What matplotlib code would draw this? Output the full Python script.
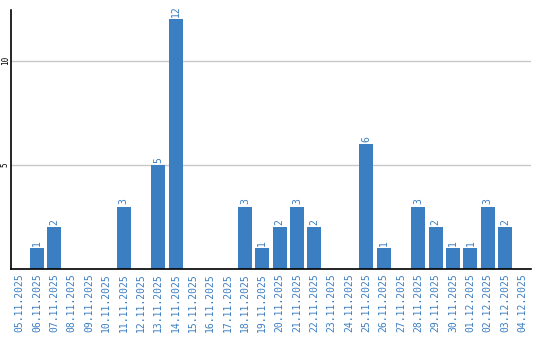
import matplotlib
matplotlib.use("Agg")
import matplotlib.pyplot as plt

dates = ["05.11.2025", "06.11.2025", "07.11.2025", "08.11.2025", "09.11.2025",
         "10.11.2025", "11.11.2025", "12.11.2025", "13.11.2025", "14.11.2025",
         "15.11.2025", "16.11.2025", "17.11.2025", "18.11.2025", "19.11.2025",
         "20.11.2025", "21.11.2025", "22.11.2025", "23.11.2025", "24.11.2025",
         "25.11.2025", "26.11.2025", "27.11.2025", "28.11.2025", "29.11.2025",
         "30.11.2025", "01.12.2025", "02.12.2025", "03.12.2025", "04.12.2025"]
values = [0, 1, 2, 0, 0, 0, 3, 0, 5, 12, 0, 0, 0, 3, 1, 2, 3, 2, 0, 0,
          6, 1, 0, 3, 2, 1, 1, 3, 2, 0]
yticks = [5, 10]

blue = "#3b7ec2"
fig = plt.figure(figsize=(5.4, 3.4), dpi=100)
ax = fig.add_axes([0.0204, 0.209, 0.963, 0.762])
x = list(range(len(dates)))
ax.bar(x, values, width=0.8, color=blue, zorder=2)
for xi, v in zip(x, values):
    if v > 0:
        ax.text(xi, v + 0.1, str(v), rotation=90, ha="center", va="bottom",
                color=blue, fontsize=7, family="DejaVu Sans Mono")
ax.set_xlim(-0.5, len(dates) - 0.5)
ax.set_ylim(0, 12.45)
ax.set_xticks(x)
ax.set_xticklabels(dates, rotation=90, color=blue, fontsize=7, family="DejaVu Sans Mono")
ax.set_yticks(yticks)
ax.set_yticklabels([str(t) for t in yticks], rotation=90, fontsize=5.5,
                   family="DejaVu Sans Mono", va="center")
ax.tick_params(axis="x", length=0, pad=3)
ax.tick_params(axis="y", length=0, pad=1)
ax.yaxis.grid(True, color="#c8c8c8", linewidth=1, zorder=0)
ax.set_axisbelow(True)
for s in ["top", "right"]:
    ax.spines[s].set_visible(False)
for s in ["left", "bottom"]:
    ax.spines[s].set_color("black")
    ax.spines[s].set_linewidth(1.2)
fig.savefig("out.png", dpi=100)
